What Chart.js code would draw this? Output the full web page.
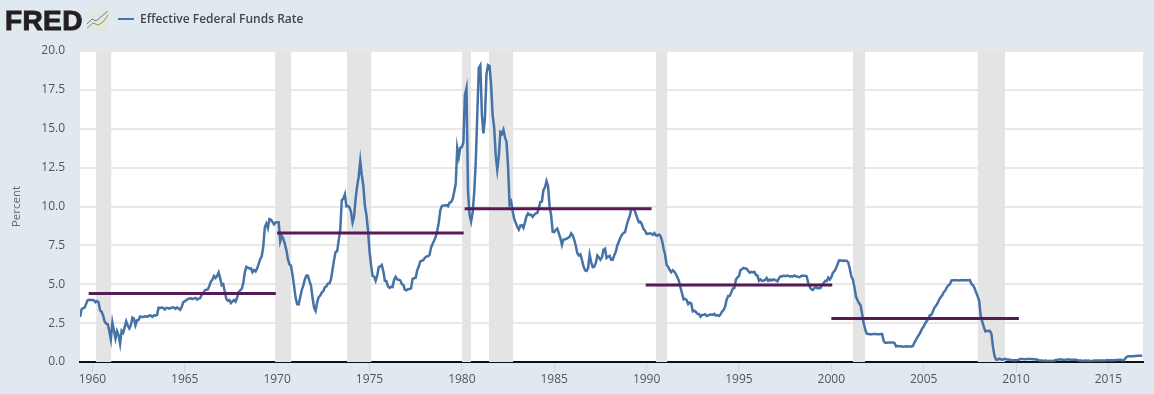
<!DOCTYPE html>
<html>
<head>
<meta charset="utf-8">
<title>Effective Federal Funds Rate</title>
<script src="https://cdn.jsdelivr.net/npm/chart.js@4"></script>
<style>
  body { margin: 0; background: #e1e9f0; overflow: hidden; }
  #wrap { position: relative; width: 1154px; height: 394px; }
  #grafico { position: absolute; left: 0; top: 0; }
  #logo { position: absolute; left: 5px; top: 5px; font: bold 28px "Liberation Sans", sans-serif; color: #231f20; -webkit-text-stroke: 1px #231f20; letter-spacing: 0.4px; }
  #icono { position: absolute; left: 87px; top: 10px; }
  #muestra { position: absolute; left: 118px; top: 18px; width: 16px; height: 2px; background: #4572a7; }
  #leyenda { position: absolute; left: 140px; top: 10px; font: 600 12px "Open Sans", sans-serif; color: #444; white-space: nowrap; }
</style>
</head>
<body>
<div id="wrap">
  <canvas id="grafico" width="1154" height="394"></canvas>
  <div id="logo">FRED</div>
  <svg id="icono" width="22" height="21" viewBox="0 0 22 21">
    <rect width="22" height="21" rx="2" fill="#e4e6e2"/>
    <polyline points="0,14 5,9 9,11 15,6 21,1" fill="none" stroke="#5c84ad" stroke-width="1"/>
    <polyline points="0,18 6,13 11,15 16,12 21,5" fill="none" stroke="#7fa24e" stroke-width="1"/>
  </svg>
  <div id="muestra"></div>
  <div id="leyenda">Effective Federal Funds Rate</div>
</div>
<script>
// Tasa mensual, empieza en mayo de 1959
const startYear = 1959;
const startMonth = 4;
const rates = [
  2.90, 3.39, 3.47, 3.50, 3.76, 3.98, 4.00, 3.99,
  3.99, 3.97, 3.84, 3.92, 3.85, 3.32, 3.23, 2.98, 2.60, 2.47, 2.44, 1.98,
  1.45, 2.54, 2.02, 1.50, 1.98, 1.73, 1.17, 2.00, 1.88, 2.26, 2.61, 2.33,
  2.15, 2.37, 2.85, 2.78, 2.36, 2.68, 2.71, 2.93, 2.90, 2.90, 2.94, 2.93,
  2.92, 3.00, 2.98, 2.90, 3.00, 2.99, 3.02, 3.49, 3.48, 3.50, 3.48, 3.38,
  3.48, 3.48, 3.43, 3.47, 3.50, 3.50, 3.42, 3.50, 3.45, 3.36, 3.52, 3.85,
  3.90, 3.98, 4.04, 4.09, 4.10, 4.04, 4.09, 4.12, 4.01, 4.08, 4.10, 4.32,
  4.42, 4.60, 4.65, 4.67, 4.90, 5.17, 5.30, 5.53, 5.40, 5.53, 5.76, 5.40,
  4.94, 5.00, 4.53, 4.05, 3.94, 3.98, 3.79, 3.90, 3.99, 3.88, 4.13, 4.51,
  4.60, 4.71, 5.05, 5.76, 6.12, 6.07, 6.02, 6.03, 5.78, 5.91, 5.82, 6.02,
  6.30, 6.61, 6.79, 7.41, 8.67, 8.90, 8.61, 9.19, 9.15, 9.00, 8.85, 8.97,
  8.98, 8.98, 7.76, 8.10, 7.94, 7.60, 7.21, 6.61, 6.29, 6.20, 5.60, 4.90,
  4.14, 3.72, 3.71, 4.16, 4.63, 4.91, 5.31, 5.56, 5.55, 5.20, 4.91, 4.14,
  3.50, 3.29, 3.83, 4.17, 4.27, 4.46, 4.55, 4.80, 4.87, 5.04, 5.06, 5.33,
  5.94, 6.58, 7.09, 7.12, 7.84, 8.49, 10.40, 10.50, 10.78, 10.01, 10.03, 9.95,
  9.65, 8.97, 9.35, 10.51, 11.31, 11.93, 12.92, 12.01, 11.34, 10.06, 9.45, 8.53,
  7.13, 6.24, 5.54, 5.49, 5.22, 5.55, 6.10, 6.14, 6.24, 5.82, 5.22, 5.20,
  4.87, 4.77, 4.84, 4.82, 5.29, 5.48, 5.31, 5.29, 5.25, 5.02, 4.95, 4.65,
  4.61, 4.68, 4.69, 4.73, 5.35, 5.39, 5.42, 5.90, 6.14, 6.47, 6.51, 6.56,
  6.70, 6.78, 6.79, 6.89, 7.36, 7.60, 7.81, 8.04, 8.45, 8.96, 9.76, 10.03,
  10.07, 10.06, 10.09, 10.01, 10.24, 10.29, 10.47, 10.94, 11.43, 13.77, 13.18, 13.78,
  13.82, 14.13, 17.19, 17.61, 10.98, 9.47, 9.03, 9.61, 10.87, 12.81, 15.85, 18.90,
  19.08, 15.93, 14.70, 15.72, 18.52, 19.10, 19.04, 17.82, 15.87, 15.08, 13.31, 12.37,
  13.22, 14.78, 14.68, 14.94, 14.45, 14.15, 12.59, 10.12, 10.31, 9.71, 9.20, 8.95,
  8.68, 8.51, 8.77, 8.80, 8.63, 8.98, 9.37, 9.56, 9.45, 9.48, 9.34, 9.47,
  9.56, 9.59, 9.91, 10.29, 10.32, 11.06, 11.23, 11.64, 11.30, 9.99, 9.43, 8.38,
  8.35, 8.50, 8.58, 8.27, 7.97, 7.53, 7.88, 7.90, 7.92, 7.99, 8.05, 8.27,
  8.14, 7.86, 7.48, 6.99, 6.85, 6.92, 6.56, 6.17, 5.89, 5.85, 6.04, 6.91,
  6.43, 6.10, 6.13, 6.37, 6.85, 6.73, 6.58, 6.73, 7.22, 7.29, 6.69, 6.77,
  6.83, 6.58, 6.58, 6.87, 7.09, 7.51, 7.75, 8.01, 8.19, 8.30, 8.35, 8.76,
  9.12, 9.36, 9.85, 9.84, 9.81, 9.53, 9.24, 8.99, 9.02, 8.84, 8.55, 8.45,
  8.23, 8.24, 8.28, 8.26, 8.18, 8.29, 8.15, 8.13, 8.20, 8.11, 7.81, 7.31,
  6.91, 6.25, 6.12, 5.91, 5.78, 5.90, 5.82, 5.66, 5.45, 5.21, 4.81, 4.43,
  4.03, 4.06, 3.98, 3.73, 3.82, 3.76, 3.25, 3.30, 3.22, 3.10, 3.09, 2.92,
  3.02, 3.03, 3.07, 2.96, 3.00, 3.04, 3.06, 3.03, 3.09, 2.99, 3.02, 2.96,
  3.05, 3.25, 3.34, 3.56, 4.01, 4.25, 4.26, 4.47, 4.73, 4.76, 5.29, 5.45,
  5.53, 5.92, 5.98, 6.05, 6.01, 6.00, 5.85, 5.74, 5.80, 5.76, 5.80, 5.60,
  5.56, 5.22, 5.31, 5.22, 5.24, 5.27, 5.40, 5.22, 5.30, 5.24, 5.31, 5.29,
  5.25, 5.19, 5.39, 5.51, 5.50, 5.56, 5.52, 5.54, 5.54, 5.50, 5.52, 5.50,
  5.56, 5.51, 5.49, 5.45, 5.49, 5.56, 5.54, 5.55, 5.51, 5.07, 4.83, 4.68,
  4.63, 4.76, 4.81, 4.74, 4.74, 4.76, 4.99, 5.07, 5.22, 5.20, 5.42, 5.30,
  5.45, 5.73, 5.85, 6.02, 6.27, 6.53, 6.54, 6.50, 6.52, 6.51, 6.51, 6.40,
  5.98, 5.49, 5.31, 4.80, 4.21, 3.97, 3.77, 3.65, 3.07, 2.49, 2.09, 1.82,
  1.80, 1.78, 1.78, 1.80, 1.80, 1.80, 1.78, 1.78, 1.80, 1.80, 1.34, 1.24,
  1.24, 1.26, 1.25, 1.26, 1.26, 1.22, 1.01, 1.03, 1.01, 1.01, 1.00, 0.98,
  1.00, 1.01, 1.00, 1.00, 1.00, 1.03, 1.26, 1.43, 1.61, 1.76, 1.93, 2.16,
  2.28, 2.50, 2.63, 2.79, 3.00, 3.04, 3.26, 3.50, 3.62, 3.78, 4.00, 4.16,
  4.29, 4.49, 4.59, 4.79, 4.94, 4.99, 5.24, 5.25, 5.25, 5.25, 5.25, 5.24,
  5.25, 5.26, 5.26, 5.25, 5.25, 5.25, 5.26, 5.02, 4.94, 4.76, 4.49, 4.24,
  3.94, 2.98, 2.61, 2.28, 1.98, 2.00, 2.01, 2.00, 1.81, 0.97, 0.39, 0.16,
  0.15, 0.22, 0.18, 0.15, 0.18, 0.21, 0.16, 0.16, 0.15, 0.12, 0.12, 0.12,
  0.11, 0.13, 0.16, 0.20, 0.20, 0.18, 0.18, 0.19, 0.19, 0.19, 0.19, 0.18,
  0.17, 0.16, 0.14, 0.10, 0.09, 0.09, 0.07, 0.10, 0.08, 0.07, 0.08, 0.07,
  0.08, 0.10, 0.13, 0.14, 0.16, 0.16, 0.16, 0.13, 0.14, 0.16, 0.16, 0.16,
  0.14, 0.15, 0.14, 0.15, 0.11, 0.09, 0.09, 0.08, 0.08, 0.09, 0.08, 0.09,
  0.07, 0.07, 0.08, 0.09, 0.09, 0.10, 0.09, 0.09, 0.09, 0.09, 0.09, 0.12,
  0.11, 0.11, 0.11, 0.12, 0.12, 0.13, 0.13, 0.14, 0.14, 0.12, 0.12, 0.24,
  0.34, 0.38, 0.36, 0.37, 0.37, 0.38, 0.39, 0.40, 0.40, 0.40, 0.41
];

// Recesiones (inicio y fin en años decimales)
const recessionStart = [1960.2, 1969.89, 1973.78, 1980.01, 1981.47, 1990.5, 2001.17, 2007.91];
const recessionEnd = [1961.03, 1970.77, 1975.11, 1980.49, 1982.78, 1991.13, 2001.82, 2009.41];

// Promedios por década
const avgStart = [1959.8, 1970, 1980.15, 1989.95, 2000];
const avgEnd = [1969.93, 1980.1, 1990.27, 2000.05, 2010.15];
const avgValue = [4.4, 8.3, 9.85, 4.95, 2.8];

const rateLine = rates.map((r, i) => ({ x: startYear + (startMonth + i) / 12, y: r }));

// Bandas grises de recesión
const recessionSets = recessionStart.map((start, i) => ({
    data: [{ x: start, y: 20 }, { x: recessionEnd[i], y: 20 }],
    borderWidth: 0,
    pointRadius: 0,
    backgroundColor: '#e4e4e4',
    fill: 'origin',
    order: 3
}));

// Líneas moradas de promedio
const avgSets = avgValue.map((v, i) => ({
    data: [{ x: avgStart[i], y: v }, { x: avgEnd[i], y: v }],
    borderColor: '#571a57',
    borderWidth: 3,
    pointRadius: 0,
    order: 1
}));

// Fondo blanco del área del gráfico
const plotBackground = {
    id: 'plotBackground',
    beforeDraw(chart) {
        const a = chart.chartArea;
        chart.ctx.fillStyle = '#ffffff';
        chart.ctx.fillRect(a.left, a.top, a.width, a.height);
    }
};

new Chart(document.getElementById('grafico').getContext('2d'), {
    type: 'line',
    data: {
        datasets: [
            ...recessionSets,
            {
                label: 'Effective Federal Funds Rate',
                data: rateLine,
                borderColor: '#4572a7',
                borderWidth: 2.5,
                pointRadius: 0,
                tension: 0,
                order: 2
            },
            ...avgSets
        ]
    },
    options: {
        responsive: false,
        animation: false,
        layout: { padding: { top: 51, right: 11 } },
        plugins: { legend: { display: false }, tooltip: { enabled: false } },
        scales: {
            x: {
                type: 'linear',
                min: 1959.33,
                max: 2016.87,
                afterFit(scale) { scale.height = 32; },
                grid: { drawOnChartArea: false, tickLength: 10, tickColor: '#ccd6eb' },
                border: { color: '#111111', width: 2 },
                ticks: {
                    stepSize: 5,
                    includeBounds: false,
                    maxRotation: 0,
                    padding: 0,
                    color: '#555555',
                    font: { family: '"Open Sans"', size: 12 },
                    callback: v => String(v)
                }
            },
            y: {
                min: 0,
                max: 20,
                afterFit(scale) { scale.width = 80; },
                grid: { color: '#e8e8e8', lineWidth: 2, drawTicks: false },
                border: { display: false },
                title: {
                    display: true,
                    text: 'Percent',
                    color: '#666666',
                    font: { family: '"Open Sans"', size: 11.5 },
                    padding: { top: 10, bottom: 0 }
                },
                ticks: {
                    stepSize: 2.5,
                    padding: 15,
                    color: '#555555',
                    font: { family: '"Open Sans"', size: 12 },
                    callback: v => v.toFixed(1)
                }
            }
        }
    },
    plugins: [plotBackground]
});
</script>
</body>
</html>
